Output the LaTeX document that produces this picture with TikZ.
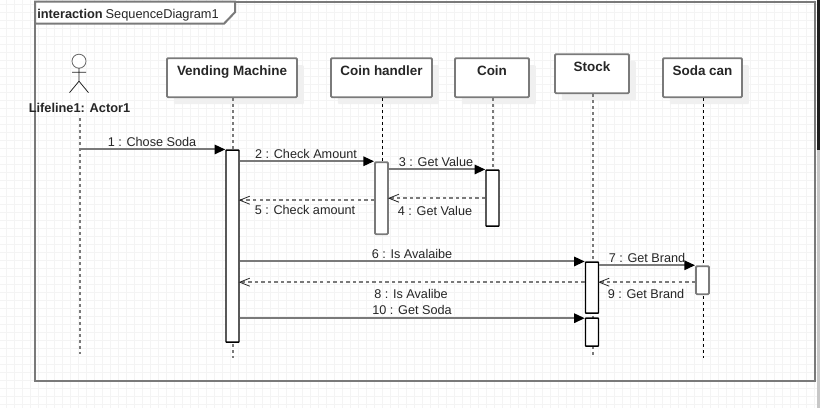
\documentclass[tikz,border=0pt]{standalone}
\usepackage{fontspec}
\setmainfont{Liberation Sans}
\usetikzlibrary{shadows,arrows.meta}
\definecolor{edge}{HTML}{7A7A7A}
\definecolor{gridc}{HTML}{F4F4F4}
\definecolor{ink}{HTML}{262626}
\tikzset{
  x=0.75pt,y=-0.75pt,
  frameline/.style={draw=edge,line width=1.5pt},
  lifebox/.style={draw=edge,line width=1.4pt,fill=white,rounded corners=0.8pt,inner sep=0pt,
    text height=13.25pt,text depth=16pt,font=\bfseries\fontsize{10.1}{12}\selectfont,text=ink,align=center,
    general shadow={shadow xshift=5.2pt,shadow yshift=-5.2pt,fill=black!6,draw=none}},
  msg/.style={draw=edge,line width=1.5pt,-{Triangle[length=8pt,width=7pt,black]}},
  ret/.style={draw=edge,line width=1.5pt,dash pattern=on 2.6pt off 2.3pt},
  graylife/.style={draw=edge,line width=1.5pt,dash pattern=on 2.2pt off 2.3pt},
  blacklife/.style={draw=black,line width=0.8pt,dash pattern=on 2.3pt off 2.2pt},
  actbk/.style={draw=black,line width=1.1pt,fill=white,minimum width=9.75pt,inner sep=0pt,rounded corners=0.4pt},
  actgr/.style={draw=edge,line width=1.4pt,fill=white,minimum width=9.75pt,inner sep=0pt,rounded corners=0.8pt},
  mlabel/.style={font=\fontsize{9.5}{11}\selectfont,text=ink,inner sep=0pt,anchor=base},
  openhead/.style={draw=ink,line width=0.6pt},
}
\begin{document}
\begin{tikzpicture}
\useasboundingbox (0,-0.2) rectangle (820,407.8);
\fill[white] (0,-0.2) rectangle (820,407.8);
% grid
\foreach \gx in {6,14,...,814} \draw[gridc,line width=0.5pt] (\gx,-0.2) -- (\gx,407.8);
\foreach \gy in {4,12,...,404} \draw[gridc,line width=0.5pt] (0,\gy) -- (820,\gy);
% window edge at the right
\fill[black!88] (816.5,-0.2) rectangle (820,150);
\fill[black!22] (816.5,150) rectangle (820,407.8);
% frame
\draw[frameline] (35,1.5) rectangle (814.5,381);
\draw[frameline,fill=white] (35,1.5) -- (235,1.5) -- (235,12) -- (224,23.5) -- (35,23.5) -- cycle;
\node[anchor=base west,inner sep=0pt,font=\fontsize{9.6}{12}\selectfont,text=ink] (frametitle) at (37,18) {\textbf{interaction}\hspace{2.2pt}SequenceDiagram1};
% actor
\draw[draw=ink!70,line width=0.6pt,fill=white] (79,61) circle (7);
\draw[draw=ink,line width=0.6pt] (79,68) -- (79,81) (72,72) -- (86,72) (79,81) -- (69.5,92.5) (79,81) -- (88.5,92.5);
\node[font=\bfseries\fontsize{9.6}{12}\selectfont,text=ink,inner sep=0pt,anchor=base] (actor) at (79.5,112) {Lifeline1: Actor1};
% lifeline ends
\coordinate (actorTop) at (80,118);
\coordinate (actorEnd) at (80,354);
\coordinate (vmEnd) at (233,358);
\coordinate (chEnd) at (382.5,234);
\coordinate (coinEnd) at (493,226);
\coordinate (stockEnd) at (593,355);
\coordinate (sodaEnd) at (703.5,358);
% heads
\node[lifebox,minimum width=97.5pt,minimum height=29.25pt] (vm) at (232,77.5) {Vending Machine};
\node[lifebox,minimum width=75.75pt,minimum height=29.25pt] (ch) at (381.5,77.5) {Coin handler};
\node[lifebox,minimum width=55.5pt,minimum height=29.25pt] (coin) at (492,77.5) {Coin};
\node[lifebox,minimum width=55.5pt,minimum height=29.25pt] (stock) at (592,73.5) {Stock};
\node[lifebox,minimum width=59.25pt,minimum height=29.25pt] (soda) at (702.5,77.5) {Soda can};
% lifelines
\draw[graylife] (vm.south -| vmEnd) -- (vmEnd);
\draw[graylife] (actorTop) -- (actorEnd);
\draw[blacklife] (ch.south -| chEnd) -- (chEnd);
\draw[graylife] (coin.south -| coinEnd) -- (coinEnd);
\draw[graylife] (stock.south -| stockEnd) -- (stockEnd);
\draw[blacklife] (soda.south -| sodaEnd) -- (sodaEnd);
% activations
\node[actbk,minimum height=144pt] (vmA) at (232.5,246) {};
\node[actgr,minimum height=54pt] (chA) at (381.5,198) {};
\node[actbk,minimum height=42pt] (coinA) at (492.5,198) {};
\node[actbk,minimum height=38.25pt] (stockA) at (592,287.5) {};
\node[actbk,minimum height=21pt] (stockB) at (592,332) {};
\node[actgr,minimum height=21pt] (sodaA) at (702.5,280) {};
% levels of the messages that no activation starts on
\coordinate (y4) at (0,198);
\coordinate (y5) at (0,200);
\coordinate (y8) at (0,282);
\coordinate (y10) at (0,318);
% messages
\draw[msg] (actorTop |- vmA.north) -- (vmA.north west);
\draw[msg] (vmA.east |- chA.north) -- (chA.north west);
\draw[msg] (chA.east |- coinA.north) -- (coinA.north west);
\draw[msg] (vmA.east |- stockA.north) -- (stockA.north west);
\draw[msg] (stockA.east |- sodaA.north) -- (sodaA.north west);
\draw[msg] (vmA.east |- y10) -- (stockB.west |- y10);
\draw[ret] (coinA.west |- y4) -- (chA.east |- y4);
\draw[ret] (chA.west |- y5) -- (vmA.east |- y5);
\draw[ret] (stockA.west |- y8) -- (vmA.east |- y8);
\draw[ret] (sodaA.west |- y8) -- (stockA.east |- y8);
% open heads
\foreach \tipn/\lev in {chA/y4,vmA/y5,vmA/y8,stockA/y8}
  \draw[openhead] ([shift={(10,-4)}]\tipn.east |- \lev) -- (\tipn.east |- \lev) -- ([shift={(10,4)}]\tipn.east |- \lev);
% labels
\node[mlabel] (m1) at (152,146) {1 : Chose Soda};
\node[mlabel] (m2) at (306,158) {2 : Check Amount};
\node[mlabel] (m3) at (436,166) {3 : Get Value};
\node[mlabel] (m4) at (435,215) {4 : Get Value};
\node[mlabel] (m5) at (305,214) {5 : Check amount};
\node[mlabel] (m6) at (412,258) {6 : Is Avalaibe};
\node[mlabel] (m7) at (647,262) {7 : Get Brand};
\node[mlabel] (m8) at (411,298) {8 : Is Avalibe};
\node[mlabel] (m9) at (646,298) {9 : Get Brand};
\node[mlabel] (m10) at (412,314) {10 : Get Soda};
\end{tikzpicture}
\end{document}
